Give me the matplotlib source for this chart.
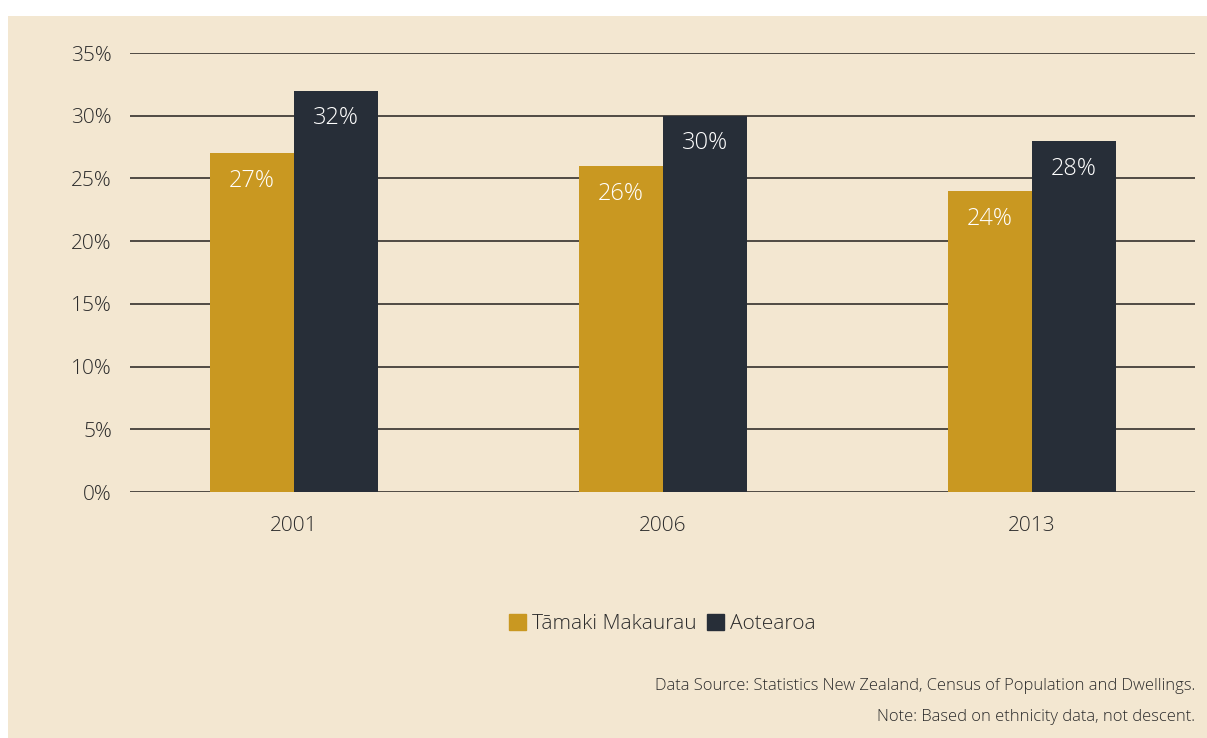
import matplotlib
matplotlib.use("Agg")
import matplotlib.pyplot as plt
import matplotlib.patches as mpatches
import matplotlib.ticker as mtick
import numpy as np

YEARS        = ["2001", "2006", "2013"]
TAMAKI       = [27, 26, 24]
AOTEAROA     = [32, 30, 28]
SERIES_NAMES = ["T\u0101maki Makaurau", "Aotearoa"]
SOURCE_TEXT  = "Data Source: Statistics New Zealand, Census of Population and Dwellings."
NOTE_TEXT    = "Note: Based on ethnicity data, not descent."

GOLD     = "#C99821"
DARK     = "#272E38"
PANEL    = "#F3E7D1"
TEXT_COL = "#2B2B2B"

W, H = 1207, 738

plt.rcParams["font.family"] = ["Open Sans", "DejaVu Sans"]
plt.rcParams["font.weight"] = "light"

fig = plt.figure(figsize=(W / 100, H / 100), dpi=100, facecolor="white")

# panneau beige derrière le graphique
fig.patches.append(mpatches.Rectangle((8 / W, 0), 1 - 8 / W, (H - 16) / H,
                                      transform=fig.transFigure,
                                      facecolor=PANEL, edgecolor="none", zorder=-10))

ax = fig.add_axes([130 / W, (H - 492) / H, 1065 / W, (492 - 53) / H])
ax.set_facecolor("none")

x     = np.arange(len(YEARS))
width = 0.228

bars1 = ax.bar(x - width / 2, TAMAKI, width, color=GOLD, zorder=3, label=SERIES_NAMES[0])
bars2 = ax.bar(x + width / 2, AOTEAROA, width, color=DARK, zorder=3, label=SERIES_NAMES[1])

for bars, values in [(bars1, TAMAKI), (bars2, AOTEAROA)]:
  for bar, v in zip(bars, values):
    ax.annotate(f"{v}%",
                (bar.get_x() + bar.get_width() / 2, v),
                xytext=(0, -20), textcoords="offset points",
                ha="center", va="center", color="white", fontsize=17)

ax.set_ylim(0, 35)
ax.set_xlim(-0.444, 2.442)
ax.set_yticks(range(0, 36, 5))
ax.yaxis.set_major_formatter(mtick.FuncFormatter(lambda v, p: f"{int(v)}%"))
ax.set_xticks(x)
ax.set_xticklabels(YEARS)

ax.grid(axis="y", color="#34302C", linewidth=1.2, zorder=1)
ax.set_axisbelow(True)
for s in ax.spines.values():
  s.set_visible(False)

ax.tick_params(axis="y", length=0, pad=13, labelsize=15, labelcolor=TEXT_COL)
ax.tick_params(axis="x", length=0, pad=17, labelsize=15, labelcolor=TEXT_COL)

handles = [mpatches.Patch(color=GOLD), mpatches.Patch(color=DARK)]
fig.legend(handles, SERIES_NAMES, loc="center", bbox_to_anchor=(662 / W, 1 - 624 / H),
           ncol=2, frameon=False, fontsize=15, handlelength=0.85, handleheight=0.85,
           handletextpad=0.25, columnspacing=0.5, labelcolor=TEXT_COL)

fig.text(1195 / W, 1 - 686 / H, SOURCE_TEXT, ha="right", va="center",
         fontsize=11.9, color=TEXT_COL)
fig.text(1195 / W, 1 - 717 / H, NOTE_TEXT, ha="right", va="center",
         fontsize=11.9, color=TEXT_COL)

fig.savefig("out.png", dpi=100, facecolor="white")
